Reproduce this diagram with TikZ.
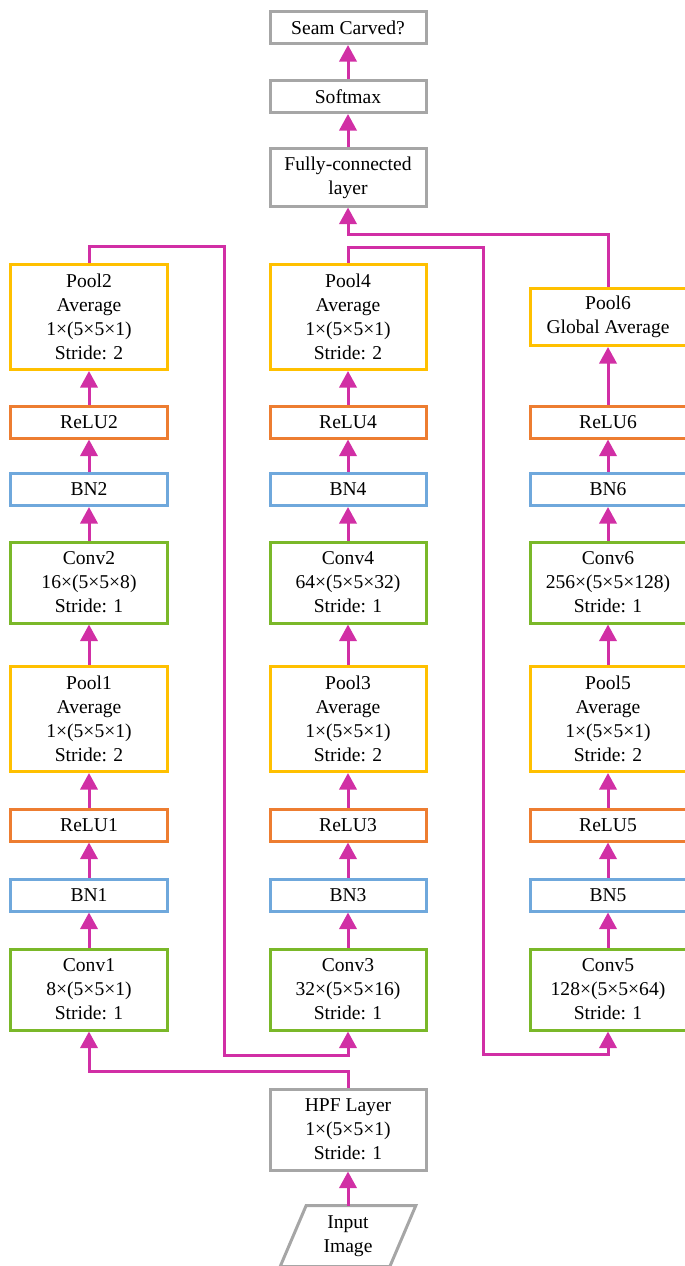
\documentclass[tikz,border=0pt]{standalone}
\usepackage{fontspec}
\setmainfont{Liberation Serif}
\usetikzlibrary{arrows.meta,calc}
\definecolor{LPink}{HTML}{D12FA5}
\definecolor{LYellow}{HTML}{FFC000}
\definecolor{LOrange}{HTML}{ED7D31}
\definecolor{LBlue}{HTML}{6FA8DC}
\definecolor{LGreen}{HTML}{7AB829}
\definecolor{LGray}{HTML}{A6A6A6}
\tikzset{
    block/.style = {draw, rectangle, line width=0.09cm, align=center,
        inner sep=0pt, minimum width=4.68cm,
        font=\fontsize{16.7}{20.5}\selectfont},
    one/.style = {block, minimum height=0.96cm},
    two/.style = {block, minimum height=1.71cm},
    three/.style = {block, minimum height=2.43cm},
    four/.style = {block, minimum height=3.15cm},
    arrow/.style = {draw=LPink, line width=0.09cm,
        -{Triangle[length=0.5cm,width=0.52cm]}},
    link/.style = {draw=LPink, line width=0.09cm}
}

\begin{document}
\begin{tikzpicture}[x=0.03cm,y=-0.03cm]
        \useasboundingbox (0,0) rectangle (685,1266);
        % output stage
            \node[one,draw=LGray] (seam) at (348,27.5) {Seam Carved?};
            \node[one,draw=LGray] (softmax) at (348,96.5) {Softmax};
            \node[two,draw=LGray] (fc) at (348,177.5) {Fully-connected\\layer};
        % left column
            \node[four,draw=LYellow] (pool2) at (89,317) {Pool2\\Average\\1×(5×5×1)\\Stride: 2};
            \node[one,draw=LOrange] (relu2) at (89,422) {ReLU2};
            \node[one,draw=LBlue] (bn2) at (89,489.5) {BN2};
            \node[three,draw=LGreen] (conv2) at (89,582.5) {Conv2\\16×(5×5×8)\\Stride: 1};
            \node[four,draw=LYellow] (pool1) at (89,719) {Pool1\\Average\\1×(5×5×1)\\Stride: 2};
            \node[one,draw=LOrange] (relu1) at (89,825) {ReLU1};
            \node[one,draw=LBlue] (bn1) at (89,895) {BN1};
            \node[three,draw=LGreen] (conv1) at (89,989.5) {Conv1\\8×(5×5×1)\\Stride: 1};
        % middle column
            \node[four,draw=LYellow] (pool4) at (348,317) {Pool4\\Average\\1×(5×5×1)\\Stride: 2};
            \node[one,draw=LOrange] (relu4) at (348,422) {ReLU4};
            \node[one,draw=LBlue] (bn4) at (348,489.5) {BN4};
            \node[three,draw=LGreen] (conv4) at (348,582.5) {Conv4\\64×(5×5×32)\\Stride: 1};
            \node[four,draw=LYellow] (pool3) at (348,719) {Pool3\\Average\\1×(5×5×1)\\Stride: 2};
            \node[one,draw=LOrange] (relu3) at (348,825) {ReLU3};
            \node[one,draw=LBlue] (bn3) at (348,895) {BN3};
            \node[three,draw=LGreen] (conv3) at (348,989.5) {Conv3\\32×(5×5×16)\\Stride: 1};
        % right column
            \node[two,draw=LYellow] (pool6) at (608,317) {Pool6\\Global Average};
            \node[one,draw=LOrange] (relu6) at (608,422) {ReLU6};
            \node[one,draw=LBlue] (bn6) at (608,489.5) {BN6};
            \node[three,draw=LGreen] (conv6) at (608,582.5) {Conv6\\256×(5×5×128)\\Stride: 1};
            \node[four,draw=LYellow] (pool5) at (608,719) {Pool5\\Average\\1×(5×5×1)\\Stride: 2};
            \node[one,draw=LOrange] (relu5) at (608,825) {ReLU5};
            \node[one,draw=LBlue] (bn5) at (608,895) {BN5};
            \node[three,draw=LGreen] (conv5) at (608,989.5) {Conv5\\128×(5×5×64)\\Stride: 1};
        % input stage
            \node[three,draw=LGray] (hpf) at (348,1129.5) {HPF Layer\\1×(5×5×1)\\Stride: 1};
            \node[block,draw=none,minimum width=3.2cm,minimum height=1.74cm] (input) at (348,1236) {Input\\Image};
            \draw[draw=LGray,line width=0.09cm] ([xshift=0.39cm]input.north west) -- ([xshift=0.39cm]input.north east)
                -- ([xshift=-0.39cm]input.south east) -- ([xshift=-0.39cm]input.south west) -- cycle;
        % joints
            \coordinate (jfc) at (348,234);
            \coordinate (ja) at (224,246);
            \coordinate (jb) at (224,1055);
            \coordinate (jc) at (483,247);
            \coordinate (jd) at (483,1054);
            \coordinate (jh) at (348,1071);
        % chains
            \foreach \i in {1,...,6} {
                \draw[arrow] (conv\i) -- (bn\i);
                \draw[arrow] (bn\i) -- (relu\i);
            }
            \draw[arrow] (relu1) -- (pool1);
            \draw[arrow] (relu2) -- (pool2);
            \draw[arrow] (relu3) -- (pool3);
            \draw[arrow] (relu4) -- (pool4);
            \draw[arrow] (relu5) -- (pool5);
            \draw[arrow] (relu6) -- (pool6);
            \draw[arrow] (pool1) -- (conv2);
            \draw[arrow] (pool3) -- (conv4);
            \draw[arrow] (pool5) -- (conv6);
            \draw[arrow] (input.north) -- (hpf);
            \draw[arrow] (hpf.north) -- (jh) -| (conv1.south);
            \draw[arrow] (pool2.north) |- (ja) -- (jb) -| (conv3.south);
            \draw[arrow] (pool4.north) |- (jc) -- (jd) -| (conv5.south);
            \draw[arrow] (pool6.north) |- (jfc) -- (fc.south);
            \draw[arrow] (fc) -- (softmax);
            \draw[arrow] (softmax) -- (seam);
\end{tikzpicture}
\end{document}
